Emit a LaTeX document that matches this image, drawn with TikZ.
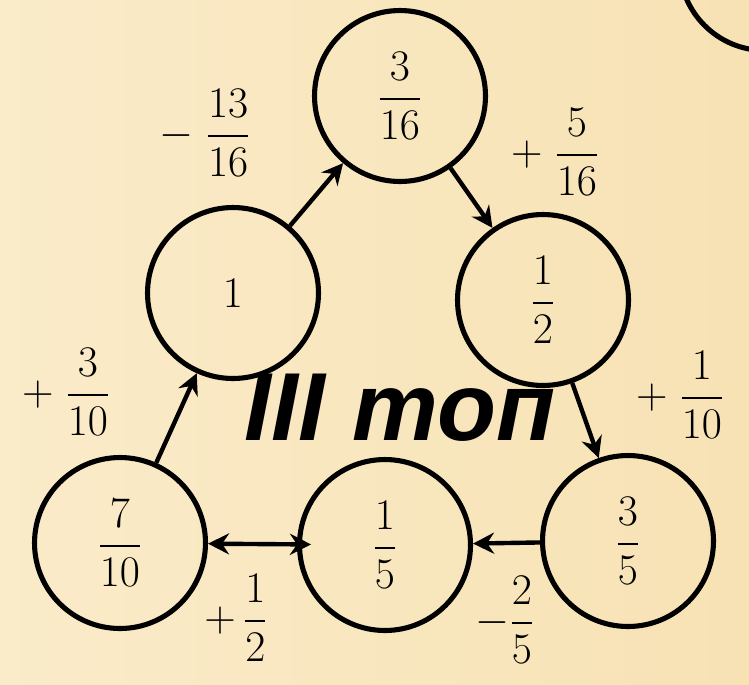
\documentclass[tikz,border=0pt]{standalone}
\usepackage{fontspec}
\usepackage{amsmath}
\usetikzlibrary{arrows.meta}
\newfontfamily\stagefont{Liberation Sans}
\definecolor{BgSand}  {HTML}{F7E2B4}
\definecolor{BgLight} {HTML}{FAEBC9}
\tikzset{
  % fraction circles
  num/.style={circle, draw=black, line width=2.9pt, minimum size=3.42cm,
              inner sep=0pt, font=\fontsize{29}{32}\selectfont},
  tip/.tip={Stealth[length=12pt, width=12pt, inset=4pt]},
  arr/.style={-tip, line width=2.5pt},
  step lbl/.style={font=\fontsize{29}{32}\selectfont, inner sep=0pt},
}
\begin{document}
\begin{tikzpicture}[x=0.02cm, y=-0.02cm]
\useasboundingbox (0,0) rectangle (749,684);
\clip (0,0) rectangle (749,684);
\shade[left color=BgLight, right color=BgSand] (0,0) rectangle (749,684);
% circles
\node[num] (top)   at (400, 96)  {$\dfrac{3}{16}$};
\node[num] (one)   at (233, 293) {$1$};
\node[num] (half)  at (543, 300) {$\dfrac{1}{2}$};
\node[num] (seven) at (120, 543) {$\dfrac{7}{10}$};
\node[num] (fifth) at (385, 545) {$\dfrac{1}{5}$};
\node[num] (three) at (628, 541) {$\dfrac{3}{5}$};
\node[num] (next)  at (765, -35) {};
% arrows
\draw[arr] (seven) -- (one);
\draw[arr] (one) -- (top);
\draw[arr] (top) -- (half);
\draw[arr] (half) -- (three);
\draw[arr] (three) -- (fifth);
\draw[arr, tip-tip, shorten >=-8pt] (seven) -- (fifth);
% step labels
\node[step lbl] (s1) at (205, 133) {$-\;\dfrac{13}{16}$};
\node[step lbl] (s2) at (555, 152) {$+\;\dfrac{5}{16}$};
\node[step lbl] (s3) at (66, 392)  {$+\;\dfrac{3}{10}$};
\node[step lbl] (s4) at (680, 395) {$+\;\dfrac{1}{10}$};
\node[step lbl] (s5) at (236, 618) {$+\,\dfrac{1}{2}$};
\node[step lbl] (s6) at (505, 620) {$-\dfrac{2}{5}$};
% title
\node[font=\stagefont\bfseries\itshape\fontsize{55}{60}\selectfont, inner sep=0pt]
  (title) at (400, 408) {III топ};
\end{tikzpicture}
\end{document}
